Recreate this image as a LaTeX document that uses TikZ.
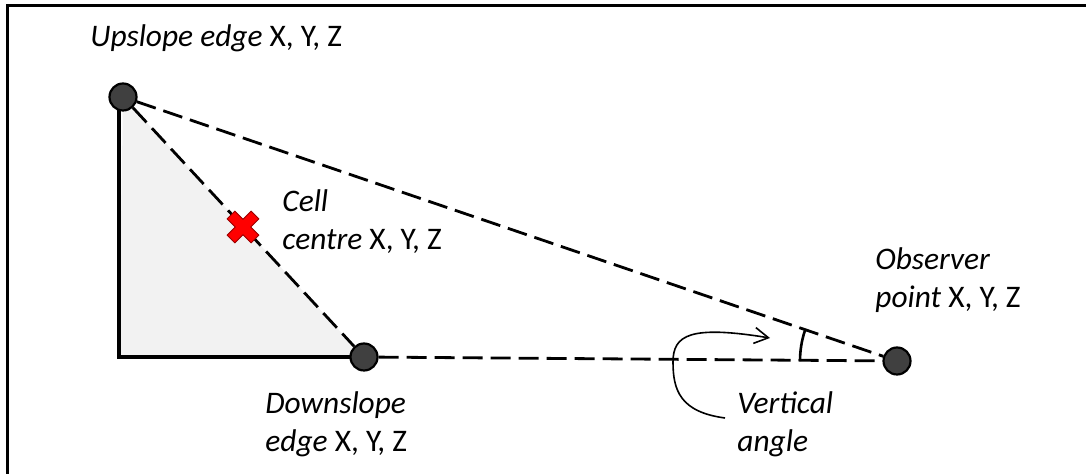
\documentclass[tikz,border=0pt]{standalone}
\usepackage{fontspec}
\setmainfont{Carlito}
\usepackage{tikz}
\usetikzlibrary{arrows.meta,positioning,calc}
\definecolor{dotgray}{HTML}{404040}
\definecolor{slopegray}{HTML}{F2F2F2}
\tikzset{
    dot/.style={
        draw,
        circle,
        line width=1.1pt,
        minimum size=13.5pt,
        inner sep=0pt,
        fill=dotgray
    },
    lbl/.style={
        align=left,
        inner sep=0pt,
        anchor=base west,
        font=\fontsize{15.7}{19}\selectfont
    },
    sight/.style={dash pattern=on 10pt off 4pt, line width=1.4pt},
    wall/.style={line width=1.6pt},
    frame/.style={line width=1.6pt},
    hint/.style={-{Straight Barb[length=7pt,width=8pt]}, line width=0.8pt}
}
\newcommand{\xyz}{\textup{X, Y, Z}}

\begin{document}
\begin{tikzpicture}[x=0.5pt, y=-0.5pt]
        \useasboundingbox (0,0) rectangle (1086,474);
        \draw[frame] (7.5,474) -- (7.5,5.5) -- (1086,5.5);

        \coordinate (up) at (123,97);
        \coordinate (corner) at (119,357);
        \coordinate (down) at (364,357);
        \coordinate (obs) at (897,361);
        \coordinate (cell) at (243,227);

        \fill[slopegray] (up) -- (corner) -- (down) -- cycle;
        \draw[wall] (up -| corner) -- (corner) -- (down);

        \node[dot] (upnode) at (up) {};
        \node[dot] (downnode) at (down) {};
        \node[dot] (obsnode) at (obs) {};

        \draw[sight] (upnode) -- (obsnode);
        \draw[sight] (upnode) -- (downnode);
        \draw[sight] (downnode) -- (obsnode);

        % cell centre marker
        \draw[fill=red, draw=red!60!black, line width=0.4pt, shift={(cell)}, rotate=45]
            (-5.5,17) -- (5.5,17) -- (5.5,5.5) -- (17,5.5) -- (17,-5.5) -- (5.5,-5.5)
            -- (5.5,-17) -- (-5.5,-17) -- (-5.5,-5.5) -- (-17,-5.5) -- (-17,5.5)
            -- (-5.5,5.5) -- cycle;

        % vertical angle
        \draw[line width=1.3pt] (obs) ++(180:97) arc[start angle=180, end angle=198.7, radius=97];
        \coordinate (tail) at (725,418);
        \coordinate (tip) at (770,338);
        \draw[hint] (tail) .. controls (680,412) and (673,390) .. (673,362)
            .. controls (673,335) and (690,325) .. (tip);

        % base = last line
        \node[lbl] (uplbl) at (90,47) {\textit{Upslope edge} \xyz};
        \node[lbl] (celllbl) at (282,250) {\textit{Cell}\\\textit{centre} \xyz};
        \node[lbl] (downlbl) at (265,452) {\textit{Downslope}\\\textit{edge} \xyz};
        \node[lbl] (obslbl) at (875,308) {\textit{Observer}\\\textit{point} \xyz};
        \node[lbl] (anglelbl) at (737,452) {\textit{Vertical}\\\textit{angle}};
    \end{tikzpicture}
\end{document}
